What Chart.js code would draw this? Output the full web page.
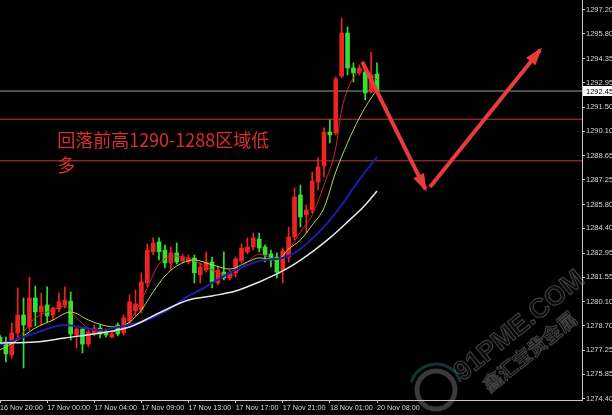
<!DOCTYPE html>
<html><head><meta charset="utf-8">
<script src="https://cdn.jsdelivr.net/npm/chart.js@4/dist/chart.umd.min.js"></script>
<style>html,body{margin:0;padding:0;background:#000;overflow:hidden}canvas{display:block}</style>
</head><body>
<canvas id="c" width="612" height="415"></canvas>
<script>
// ---- data (30-minute XAU/USD candles) ----
const xTickBars   = [0, 8, 16, 24, 32, 40, 48, 56, 64];
const xTickLabels = ['16 Nov 20:00','17 Nov 00:00','17 Nov 04:00','17 Nov 09:00','17 Nov 13:00','17 Nov 17:00','17 Nov 21:00','18 Nov 01:00','20 Nov 08:00'];
const yTickValues = [1297.20,1295.80,1294.35,1292.95,1291.50,1290.10,1288.65,1287.25,1285.80,1284.40,1282.95,1281.55,1280.10,1278.70,1277.25,1275.85,1274.40];

const opens  = [1278.03,1277.74,1276.98,1278.27,1279.32,1278.62,1280.32,1279.50,1279.91,1279.32,1279.68,1279.91,1280.14,1278.15,1278.50,1277.62,1278.27,1278.56,1278.33,1278.03,1278.74,1278.27,1278.97,1279.56,1279.62,1281.20,1283.02,1283.60,1283.13,1282.37,1282.96,1282.49,1282.43,1282.67,1281.67,1281.96,1282.43,1281.20,1281.84,1281.49,1281.79,1282.49,1283.02,1283.31,1283.78,1283.31,1282.90,1282.72,1281.96,1282.72,1283.90,1286.36,1285.19,1285.48,1287.12,1288.06,1290.05,1289.99,1293.33,1295.85,1293.80,1293.51,1293.57,1292.40,1293.45];
const highs  = [1278.15,1278.03,1278.86,1280.91,1280.32,1281.55,1281.02,1280.61,1280.97,1279.79,1280.61,1280.97,1280.67,1278.56,1278.56,1278.44,1278.74,1278.74,1278.50,1278.33,1278.86,1279.32,1280.50,1280.79,1281.79,1283.49,1283.84,1283.84,1283.43,1283.31,1283.54,1282.90,1282.84,1282.84,1282.37,1283.02,1282.72,1282.20,1283.02,1281.96,1282.72,1283.49,1283.84,1284.13,1284.13,1283.43,1283.13,1282.96,1283.25,1284.48,1286.77,1286.94,1285.77,1287.71,1288.53,1290.29,1290.76,1293.28,1296.73,1296.21,1294.10,1293.98,1293.80,1294.74,1294.10];
const lows   = [1277.57,1276.57,1276.80,1277.86,1276.22,1278.44,1278.68,1278.74,1278.91,1279.03,1279.50,1279.73,1277.86,1277.39,1277.10,1277.45,1278.09,1277.98,1278.03,1277.98,1278.09,1278.15,1278.80,1279.27,1279.44,1280.97,1282.84,1282.55,1282.08,1281.96,1282.31,1282.37,1282.31,1281.20,1281.20,1281.84,1280.91,1281.08,1281.38,1281.38,1281.55,1282.37,1282.90,1283.13,1283.02,1282.43,1282.14,1281.49,1281.20,1282.43,1283.72,1284.48,1284.13,1285.30,1286.65,1287.41,1289.41,1289.88,1293.22,1293.39,1292.98,1293.39,1291.93,1292.34,1292.34];
const closes = [1277.74,1277.04,1278.27,1279.32,1278.74,1280.32,1279.50,1279.85,1279.27,1279.73,1280.09,1280.20,1278.21,1278.50,1277.62,1278.33,1278.56,1278.21,1278.15,1278.21,1278.21,1279.15,1280.09,1279.97,1281.26,1283.13,1283.54,1283.02,1282.37,1282.96,1282.43,1282.72,1282.67,1281.79,1282.14,1282.43,1281.26,1281.96,1281.49,1281.79,1282.61,1283.25,1283.31,1283.84,1283.25,1282.84,1282.55,1281.84,1283.08,1283.90,1286.24,1285.07,1285.48,1287.18,1288.00,1290.05,1289.88,1293.16,1295.85,1293.80,1293.51,1293.80,1292.34,1293.39,1292.45];

const maRedBars    = [0,3,6,9,11,13,15,18,21,23,25,27,30,33,36,39,42,44,47,49,51,53,55,57,58,60,62,64];
const maRedVals    = [1277.57,1277.98,1279.15,1279.62,1279.85,1279.15,1278.56,1278.33,1278.56,1279.50,1280.91,1282.31,1282.78,1282.49,1281.96,1281.61,1282.43,1282.90,1282.55,1283.13,1284.19,1285.19,1286.94,1289.11,1291.34,1293.22,1293.69,1293.10];
const maYellowBars = [0,3,6,9,12,15,18,20,22,24,26,28,30,33,36,39,42,44,47,49,51,53,55,57,59,61,63,64];
const maYellowVals = [1277.27,1277.86,1278.56,1279.03,1279.50,1279.03,1278.68,1278.62,1278.91,1279.62,1280.67,1281.61,1282.20,1282.55,1282.26,1282.02,1282.43,1282.67,1282.55,1283.19,1283.72,1284.60,1285.60,1287.71,1289.41,1290.87,1292.04,1292.51];
const maBlueBars   = [0,6,11,17,20,24,28,32,34,36,40,44,48,50,52,54,56,58,60,62,64];
const maBlueVals   = [1277.57,1278.27,1278.74,1278.44,1278.62,1278.91,1279.50,1280.44,1280.79,1281.20,1281.96,1282.49,1282.67,1282.96,1283.49,1284.13,1284.89,1285.77,1286.77,1287.71,1288.59];
const maWhiteBars  = [0,6,11,17,22,27,32,36,40,44,47,50,53,56,59,62,64];
const maWhiteVals  = [1277.68,1277.74,1277.98,1278.27,1278.62,1279.44,1280.20,1280.44,1280.73,1281.26,1281.73,1282.31,1283.02,1283.84,1284.78,1285.77,1286.59];

const currentPrice = 1292.45;
const zoneTop = 1290.80, zoneBottom = 1288.36;
const arrowDownBars = [61.5, 72.2], arrowDownVals = [1294.16, 1286.70];
const arrowUpBars   = [73.0, 91.7], arrowUpVals   = [1286.83, 1294.86];
const noteLine1 = '回落前高1290-1288区域低', noteLine2 = '多';
const noteBar = 9.7, noteVal1 = 1289.58, noteVal2 = 1288.12;

// ---- chart ----
const X_MIN = 0, X_MAX = 98.8, Y_MIN = 1274.341, Y_MAX = 1297.786;
const RED = '#ec2420', GREEN = '#34e034', ZONE = '#c23a3a', ARROW = '#e83c3c';
const idx = opens.map((_, i) => i);
const candleColors = idx.map(i => closes[i] >= opens[i] ? RED : GREEN);
const pts = (bars, vals) => bars.map((b, i) => ({x: b, y: vals[i]}));
const hline = v => [{x: X_MIN, y: v}, {x: X_MAX, y: v}];
const lineDs = (data, color, w, order) => ({type: 'line', data, borderColor: color, borderWidth: w, pointRadius: 0, tension: 0.4, cubicInterpolationMode: 'monotone', order, fill: false});

const overlay = {
  id: 'overlay',
  afterDatasetsDraw(chart) {
    const {ctx, scales: {x, y}} = chart;
    ctx.save();
    const head = (bars, vals) => {
      const x0 = x.getPixelForValue(bars[0]), y0 = y.getPixelForValue(vals[0]);
      const x1 = x.getPixelForValue(bars[1]), y1 = y.getPixelForValue(vals[1]);
      const a = Math.atan2(y1 - y0, x1 - x0), L = 15, W = 6;
      ctx.fillStyle = ARROW;
      ctx.beginPath();
      ctx.moveTo(x1 + 3 * Math.cos(a), y1 + 3 * Math.sin(a));
      ctx.lineTo(x1 - L * Math.cos(a) + W * Math.sin(a), y1 - L * Math.sin(a) - W * Math.cos(a));
      ctx.lineTo(x1 - L * Math.cos(a) - W * Math.sin(a), y1 - L * Math.sin(a) + W * Math.cos(a));
      ctx.closePath(); ctx.fill();
    };
    head(arrowDownBars, arrowDownVals);
    head(arrowUpBars, arrowUpVals);
    ctx.fillStyle = '#dc2e2a';
    ctx.font = '18px "Noto Sans CJK SC"';
    ctx.textBaseline = 'middle'; ctx.textAlign = 'left';
    ctx.fillText(noteLine1, x.getPixelForValue(noteBar), y.getPixelForValue(noteVal1));
    ctx.fillText(noteLine2, x.getPixelForValue(noteBar), y.getPixelForValue(noteVal2));
    ctx.restore();
  },
  afterDraw(chart) {
    const {ctx, scales: {x, y}} = chart;
    ctx.save();
    const py = Math.round(y.getPixelForValue(currentPrice));
    ctx.fillStyle = '#fff';
    ctx.fillRect(x.right + 1, py - 5, 30, 10);
    ctx.fillStyle = '#000';
    ctx.font = '7.5px "Liberation Sans"';
    ctx.textBaseline = 'middle'; ctx.textAlign = 'left';
    ctx.fillText(currentPrice.toFixed(2), x.right + 4, py + 0.5);
    // watermark
    ctx.globalAlpha = 0.32;
    ctx.strokeStyle = '#b0b8b8';
    ctx.lineWidth = 5;
    ctx.beginPath(); ctx.arc(436, 390, 19, 0, Math.PI * 2); ctx.stroke();
    ctx.strokeStyle = '#3aa6a6'; ctx.lineWidth = 3;
    ctx.beginPath(); ctx.arc(436, 390, 26, Math.PI * 1.1, Math.PI * 1.9); ctx.stroke();
    ctx.translate(458, 376);
    ctx.rotate(-0.68);
    ctx.font = 'bold 27px "Liberation Sans"';
    ctx.strokeStyle = '#c8c8c8'; ctx.lineWidth = 1;
    ctx.fillStyle = 'rgba(70,70,70,0.5)';
    ctx.fillText('91PME.COM', 0, 0);
    ctx.strokeText('91PME.COM', 0, 0);
    ctx.font = 'bold 19px "Noto Sans CJK SC"';
    ctx.fillText('鑫汇宝贵金属', 14, 26);
    ctx.strokeText('鑫汇宝贵金属', 14, 26);
    ctx.restore();
  }
};

new Chart(document.getElementById('c'), {
  type: 'bar',
  data: {
    datasets: [
      lineDs(hline(currentPrice), '#9a9a9a', 1, 5),
      lineDs(hline(zoneTop), ZONE, 1, 5),
      lineDs(hline(zoneBottom), ZONE, 1, 5),
      {type: 'bar', data: idx.map(i => ({x: i, y: [lows[i], highs[i]]})), backgroundColor: candleColors, barThickness: 1, grouped: false, order: 4},
      {type: 'bar', data: idx.map(i => ({x: i, y: [opens[i], closes[i]]})), backgroundColor: candleColors, barThickness: 4, minBarLength: 1, grouped: false, order: 3},
      lineDs(pts(maWhiteBars, maWhiteVals), '#e8e8e8', 1.5, 2),
      lineDs(pts(maBlueBars, maBlueVals), '#1c1ca8', 2, 2),
      lineDs(pts(maYellowBars, maYellowVals), '#b8dc3c', 1, 2),
      lineDs(pts(maRedBars, maRedVals), '#d8231f', 1, 2),
      {...lineDs(pts(arrowDownBars, arrowDownVals), ARROW, 4, 1), tension: 0},
      {...lineDs(pts(arrowUpBars, arrowUpVals), ARROW, 4, 1), tension: 0}
    ]
  },
  options: {
    responsive: false, animation: false, devicePixelRatio: 1,
    layout: {padding: 0},
    plugins: {legend: {display: false}, tooltip: {enabled: false}},
    scales: {
      x: {
        type: 'linear', min: X_MIN, max: X_MAX, offset: false,
        afterBuildTicks: s => { s.ticks = xTickBars.map(v => ({value: v})); },
        afterFit: s => { s.height = 15; s.paddingLeft = 0; s.paddingRight = 0; },
        ticks: {color: '#d8d8d8', font: {family: 'Liberation Sans', size: 7.2}, padding: 1, align: 'start', maxRotation: 0, autoSkip: false,
                callback: (v, i) => xTickLabels[i]},
        grid: {drawOnChartArea: false, tickLength: 3, color: '#c8c8c8', offset: false},
        border: {display: true, color: '#c8c8c8', width: 1}
      },
      y: {
        type: 'linear', position: 'right', min: Y_MIN, max: Y_MAX,
        afterBuildTicks: s => { s.ticks = yTickValues.map(v => ({value: v})); },
        afterFit: s => { s.width = 30; s.paddingTop = 0; s.paddingBottom = 0; },
        ticks: {color: '#d8d8d8', font: {family: 'Liberation Sans', size: 7.5}, padding: 1, autoSkip: false,
                callback: v => Number(v).toFixed(2)},
        grid: {drawOnChartArea: false, tickLength: 3, color: '#c8c8c8'},
        border: {display: true, color: '#c8c8c8', width: 1}
      }
    }
  },
  plugins: [overlay]
});
</script>
</body></html>
